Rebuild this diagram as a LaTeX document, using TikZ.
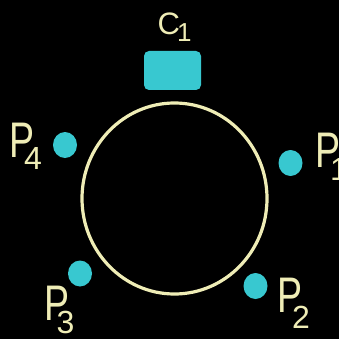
\documentclass[tikz,border=0pt]{standalone}
\usepackage{fontspec}
\setmainfont{Liberation Sans}
\usetikzlibrary{shapes.geometric}
\definecolor{tealc}{HTML}{38C8D0}
\definecolor{cream}{HTML}{EFEDB6}
\newcommand{\plab}[3]{\scalebox{0.75}[1]{P}\kern#2pt\raisebox{-#3pt}{\fontsize{32}{32}\selectfont #1}}
\begin{document}
\begin{tikzpicture}[x=1pt,y=-1pt,
  dot/.style={ellipse,fill=tealc,minimum width=24pt,minimum height=26pt,inner sep=0pt},
  lbl/.style={text=cream,inner sep=0pt,anchor=base west,font=\fontsize{50}{50}\selectfont},
  ring/.style={draw=cream,line width=3.2pt},
  box/.style={fill=tealc,rounded corners=5pt}]
\fill[black] (0,0) rectangle (339,339);
\useasboundingbox (0,0) rectangle (339,339);
\clip (0,0) rectangle (339,339);
% ring
\draw[ring] (174.5,198.5) ellipse [x radius=92.5, y radius=95.5];
% central unit
\node[box,minimum width=57pt,minimum height=39pt,inner sep=0pt] (c1) at (172.5,70.5) {};
\node[text=cream,inner sep=0pt,anchor=base west,font=\fontsize{31}{31}\selectfont] (c1l) at (157.5,35) {C\kern-3pt\raisebox{-7pt}{\fontsize{26}{26}\selectfont 1}};
% peripherals
\node[dot] (p1) at (290.5,163) {};
\node[dot] (p2) at (255.5,286) {};
\node[dot] (p3) at (80,273.5) {};
\node[dot] (p4) at (65,145) {};
\node[lbl] (p1l) at (315,167) {\plab{1}{-10}{13}};
\node[lbl] (p2l) at (277,312) {\plab{2}{-10}{16}};
\node[lbl] (p3l) at (44,320) {\plab{3}{-12.5}{13}};
\node[lbl] (p4l) at (9,157) {\plab{4}{-10}{13}};
\end{tikzpicture}
\end{document}
